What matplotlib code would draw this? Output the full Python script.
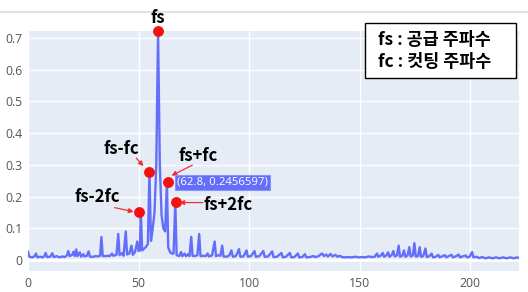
import matplotlib
matplotlib.use("Agg")
import matplotlib.pyplot as plt
from matplotlib.lines import Line2D
from matplotlib.patches import Rectangle

# ---- spectrum data as (frequency, amplitude) pairs ----
low_band = [(0.0, 0.026), (0.6, 0.010), (2.0, 0.008), (3.0, 0.012), (3.6, 0.020), (4.2, 0.008),
            (5.5, 0.010), (6.6, 0.008), (7.4, 0.012), (8.0, 0.022), (8.6, 0.009), (10.0, 0.010),
            (11.0, 0.021), (11.6, 0.009), (13.0, 0.012), (14.2, 0.008), (15.6, 0.011),
            (16.6, 0.009), (17.6, 0.014), (18.2, 0.028), (18.8, 0.012), (20.0, 0.016),
            (20.6, 0.026), (21.2, 0.012), (21.8, 0.033), (22.4, 0.012), (23.4, 0.024),
            (24.0, 0.010), (25.0, 0.018), (25.6, 0.011), (26.6, 0.013), (27.4, 0.027),
            (28.0, 0.010), (29.6, 0.010), (30.6, 0.012), (31.6, 0.011), (32.6, 0.013),
            (33.2, 0.072), (33.8, 0.012), (35.0, 0.012), (36.0, 0.013), (37.0, 0.012),
            (38.0, 0.020), (38.6, 0.013), (40.0, 0.016), (40.8, 0.082), (41.4, 0.015),
            (42.6, 0.022), (43.2, 0.013), (44.2, 0.090), (44.8, 0.017), (45.8, 0.020),
            (46.8, 0.045), (47.4, 0.016), (48.4, 0.025), (49.4, 0.058), (50.0, 0.028)]
peak_band = [(50.6, 0.030), (51.0, 0.153), (51.6, 0.030), (52.4, 0.035), (53.2, 0.040),
             (54.2, 0.050), (54.9, 0.279), (55.6, 0.060), (56.4, 0.100), (57.2, 0.150),
             (58.0, 0.300), (58.8, 0.720), (59.6, 0.300), (60.4, 0.140), (61.2, 0.100),
             (62.0, 0.090), (62.8, 0.2457), (63.4, 0.040), (64.2, 0.025), (65.0, 0.020),
             (65.8, 0.020), (66.6, 0.182), (67.2, 0.015)]
mid_band = [(68.4, 0.012), (69.2, 0.025), (69.8, 0.012), (70.8, 0.020), (71.4, 0.012),
            (72.4, 0.018), (73.0, 0.012), (73.8, 0.073), (74.4, 0.013), (75.4, 0.012),
            (76.6, 0.015), (77.4, 0.082), (78.0, 0.012), (79.4, 0.013), (80.4, 0.012),
            (81.2, 0.020), (81.8, 0.011), (83.2, 0.014), (84.4, 0.058), (85.0, 0.012),
            (86.0, 0.015), (87.0, 0.013), (87.8, 0.045), (88.4, 0.011), (89.8, 0.010),
            (91.0, 0.014), (92.0, 0.030), (92.6, 0.010), (94.0, 0.012), (95.4, 0.034),
            (96.0, 0.010), (97.4, 0.011), (98.8, 0.030), (99.4, 0.010), (100.8, 0.012),
            (102.4, 0.028), (103.0, 0.010), (104.6, 0.012), (106.4, 0.028), (107.0, 0.010),
            (108.6, 0.011), (110.4, 0.027), (111.0, 0.009), (112.6, 0.010), (114.6, 0.022),
            (115.2, 0.008), (116.6, 0.010), (118.4, 0.022), (119.0, 0.008), (120.4, 0.009),
            (122.0, 0.020), (122.6, 0.008), (124.0, 0.009), (125.2, 0.018), (125.8, 0.008),
            (127.4, 0.009), (129.0, 0.012), (130.0, 0.009), (131.4, 0.012), (132.4, 0.018),
            (133.0, 0.020), (133.8, 0.012), (134.8, 0.017), (135.6, 0.011), (136.8, 0.019),
            (137.6, 0.011), (139.0, 0.016), (139.8, 0.010), (141.0, 0.013), (142.0, 0.009),
            (143.4, 0.008), (145.0, 0.009), (146.4, 0.008), (148.0, 0.010), (149.4, 0.008),
            (151.0, 0.009), (152.4, 0.008), (154.0, 0.011), (155.4, 0.009), (156.8, 0.010)]
high_band = [(157.8, 0.020), (158.4, 0.010), (159.6, 0.014), (160.4, 0.022), (161.0, 0.010),
             (162.0, 0.014), (162.8, 0.024), (163.4, 0.010), (164.4, 0.015), (165.2, 0.028),
             (165.8, 0.011), (166.8, 0.014), (167.6, 0.045), (168.2, 0.010), (169.2, 0.013),
             (170.0, 0.030), (170.6, 0.010), (171.6, 0.014), (172.4, 0.040), (173.0, 0.011),
             (174.0, 0.014), (174.7, 0.053), (175.3, 0.011), (176.3, 0.012), (177.1, 0.040),
             (177.7, 0.010), (178.7, 0.012), (179.7, 0.036), (180.3, 0.009), (181.5, 0.012),
             (182.5, 0.020), (183.1, 0.008), (184.3, 0.010), (185.5, 0.016), (186.1, 0.008),
             (187.5, 0.012), (188.5, 0.015), (189.1, 0.008), (190.5, 0.013), (191.5, 0.016),
             (192.1, 0.008), (193.7, 0.012), (194.7, 0.017), (195.3, 0.008), (196.5, 0.011),
             (197.9, 0.014), (198.5, 0.008), (199.7, 0.010), (200.8, 0.025), (201.4, 0.008),
             (202.6, 0.010), (204.0, 0.006), (205.4, 0.009), (206.8, 0.005), (208.4, 0.008),
             (210.0, 0.005), (211.6, 0.008), (213.2, 0.005), (214.8, 0.008), (216.4, 0.005),
             (218.0, 0.008), (219.6, 0.005), (221.0, 0.008), (222.0, 0.006)]

# ---- marked harmonic points ----
mark_labels = ["fs", "fs-fc", "fs+fc", "fs-2fc", "fs+2fc"]
mark_freq = [58.8, 54.6, 63.3, 50.4, 66.9]
mark_amp = [0.722, 0.279, 0.2457, 0.152, 0.182]
hover_text = "(62.8, 0.2456597)"
legend_lines = ["fs : 공급 주파수", "fc : 컷팅 주파수"]

x_ticks = [0, 50, 100, 150, 200]
x_tick_labels = ["0", "50", "100", "150", "200"]
y_ticks = [0, 0.1, 0.2, 0.3, 0.4, 0.5, 0.6, 0.7]
y_tick_labels = ["0", "0.1", "0.2", "0.3", "0.4", "0.5", "0.6", "0.7"]

spectrum = low_band + peak_band + mid_band + high_band
freq = [p[0] for p in spectrum]
amp = [p[1] for p in spectrum]

KR = ["Noto Sans CJK KR", "DejaVu Sans"]

fig = plt.figure(figsize=(5.28, 2.92), dpi=100)
W, H = 528, 292

# top thin line (behind everything)
fig.add_artist(Line2D([0, 1], [(H - 12) / H] * 2, color="#e2e2e2", lw=1.5, zorder=-5))

ax = fig.add_axes([28 / W, (H - 271) / H, (519 - 28) / W, (271 - 31) / H])
ax.set_facecolor("#e5ecf6")
for s in ax.spines.values():
    s.set_visible(False)

ax.plot(freq, amp, color="#636efa", lw=1.7, solid_joinstyle="round", zorder=3)
ax.set_xlim(0, 222)
ax.set_ylim(-0.035, 0.7225)
ax.set_xticks(x_ticks)
ax.set_xticklabels(x_tick_labels)
ax.set_yticks(y_ticks)
ax.set_yticklabels(y_tick_labels)
ax.grid(True, color="white", lw=1.0)
ax.set_axisbelow(True)
ax.axhline(0, color="white", lw=1.8, zorder=1)
ax.tick_params(length=0, labelsize=8.8, labelcolor="#555555", pad=4)
for lab in ax.get_xticklabels() + ax.get_yticklabels():
    lab.set_family(["Open Sans", "DejaVu Sans"])

# red markers
ax.plot(mark_freq, mark_amp, "o", color="#f51010", ms=6.8, zorder=5, clip_on=False)

# labels
label_pos = [(58.6, 0.763), (42.2, 0.350), (76.7, 0.329), (31.5, 0.200), (90.3, 0.172)]
for lab, (lx, ly) in zip(mark_labels, label_pos):
    ax.text(lx, ly, lab, ha="center", va="center", fontsize=12, fontweight="bold",
            family=KR, color="black", zorder=6, clip_on=False)

# arrows
arrows = [((49.0, 0.321), (52.2, 0.296)),
          ((74.3, 0.299), (64.9, 0.266)),
          ((39.2, 0.165), (47.8, 0.152)),
          ((79.1, 0.181), (68.4, 0.181))]
for start, end in arrows:
    ax.annotate("", xy=end, xytext=start,
                arrowprops=dict(arrowstyle="-|>", color="#f03030", lw=0.9,
                                mutation_scale=7, shrinkA=0, shrinkB=0), zorder=6)

# hover label
ax.text(67.4, 0.2445, hover_text, ha="left", va="center", fontsize=8.2, color="white",
        family=["Open Sans", "DejaVu Sans"], zorder=7,
        bbox=dict(boxstyle="square,pad=0.2", fc="#636efa", ec="#8a92fb", lw=0.8))

# legend box
fig.add_artist(Rectangle((365 / W, (H - 78) / H), (516 - 365) / W, (78 - 23) / H,
                         transform=fig.transFigure, fc="white", ec="black", lw=1.0, zorder=8))
for i, line in enumerate(legend_lines):
    fig.text(378 / W, (H - 40 - 22 * i) / H, line, ha="left", va="center", fontsize=12.5,
             fontweight="bold", family=KR, zorder=9)

fig.savefig("out.png", dpi=100)
